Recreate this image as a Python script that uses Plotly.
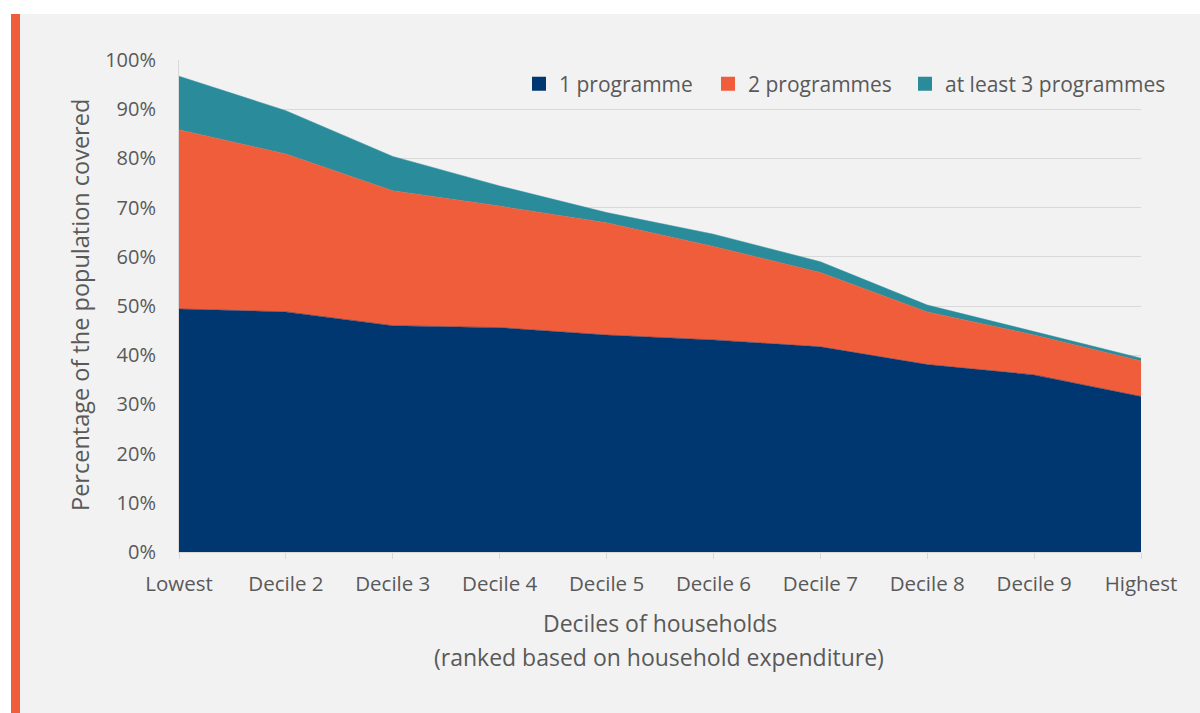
import plotly.graph_objects as go

categories = ["Lowest", "Decile 2", "Decile 3", "Decile 4", "Decile 5",
              "Decile 6", "Decile 7", "Decile 8", "Decile 9", "Highest"]
one_programme = [49.4, 48.8, 46.0, 45.6, 44.1, 43.1, 41.7, 38.1, 36.0, 31.6]
two_programmes = [36.4, 32.1, 27.4, 24.7, 22.8, 19.0, 15.1, 10.7, 8.1, 7.2]
three_plus = [10.9, 8.8, 7.0, 4.1, 2.1, 2.5, 2.2, 1.4, 0.7, 0.6]
series_names = ["1 programme", "2 programmes", "at least 3 programmes"]
colors = ["#003771", "#F05D3B", "#2A8C9B"]
x_title_lines = ["Deciles of households", "(ranked based on household expenditure)"]
y_title = "Percentage of the population covered"

W, H = 1200, 713
L, R, T, B = 179, 1141, 60, 552
pw, ph = R - L, B - T

def px(x):
    return (x - L) / pw

def py(y):
    return (B - y) / ph

legend_ids = ["legend", "legend2", "legend3"]
legend_left = [519, 708, 905]

fig = go.Figure()
for name, vals, c in zip(series_names, [one_programme, two_programmes, three_plus], colors):
    fig.add_trace(go.Scatter(x=categories, y=vals, stackgroup="one", mode="lines",
                             line=dict(width=0.5, color=c), fillcolor=c,
                             name=name, showlegend=False, hoverinfo="x+y+name"))
for name, c, lg in zip(series_names, colors, legend_ids):
    fig.add_trace(go.Scatter(x=[None], y=[None], mode="markers", name=name, legend=lg,
                             marker=dict(symbol="square", size=14, color=c)))

txt = "#595959"
font = "'Open Sans', sans-serif"

legend_common = dict(orientation="h", xanchor="left", y=py(84), yanchor="middle",
                     bgcolor="rgba(0,0,0,0)", font=dict(size=21, color=txt),
                     itemwidth=30)

fig.update_layout(
    width=W, height=H,
    margin=dict(l=L, r=W - R, t=T, b=H - B, pad=0),
    paper_bgcolor="#f2f2f2", plot_bgcolor="#f2f2f2",
    font=dict(family=font, color=txt, size=20),
    showlegend=True,
    legend=dict(x=px(legend_left[0]), **legend_common),
    legend2=dict(x=px(legend_left[1]), **legend_common),
    legend3=dict(x=px(legend_left[2]), **legend_common),
    xaxis=dict(type="category", range=[0, 9], showgrid=False, showline=True,
               linecolor="#d9d9d9", linewidth=1, ticks="outside", ticklen=6,
               tickcolor="#d9d9d9", tickfont=dict(size=20.5, color=txt),
               ticklabelstandoff=7, zeroline=False),
    yaxis=dict(range=[0, 100], dtick=10, ticksuffix="%", showgrid=True,
               gridcolor="#d9d9d9", gridwidth=1, zeroline=False,
               showline=True, linecolor="#d9d9d9", linewidth=1,
               tickfont=dict(size=20, color=txt), ticklabelstandoff=18),
    annotations=[
        dict(text=x_title_lines[0], xref="paper", yref="paper", x=px(660), y=py(623),
             xanchor="center", yanchor="middle", showarrow=False,
             font=dict(size=23, color=txt)),
        dict(text=x_title_lines[1], xref="paper", yref="paper", x=px(659), y=py(657),
             xanchor="center", yanchor="middle", showarrow=False,
             font=dict(size=23, color=txt)),
        dict(text=y_title, xref="paper", yref="paper", x=px(80), y=py(305),
             xanchor="center", yanchor="middle", showarrow=False, textangle=-90,
             font=dict(size=23.5, color=txt)),
    ],
    shapes=[
        dict(type="rect", xref="paper", yref="paper", x0=px(0), x1=px(W), y0=py(0), y1=py(14),
             fillcolor="white", line=dict(width=0), layer="below"),
        dict(type="rect", xref="paper", yref="paper", x0=px(0), x1=px(11), y0=py(0), y1=py(H),
             fillcolor="white", line=dict(width=0), layer="below"),
        dict(type="rect", xref="paper", yref="paper", x0=px(11), x1=px(20), y0=py(14), y1=py(H),
             fillcolor="#F05D3B", line=dict(width=0), layer="below"),
    ],
)

fig.write_html("out.html", config={"displayModeBar": False},
               post_script="document.body.style.margin='0';document.body.style.overflow='hidden';")
